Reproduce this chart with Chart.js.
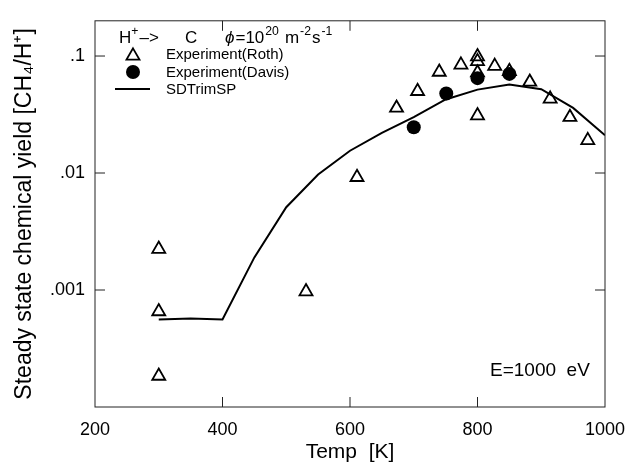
<!DOCTYPE html>
<html><head><meta charset="utf-8">
<script src="https://cdn.jsdelivr.net/npm/chart.js@4/dist/chart.umd.min.js"></script>
<style>html,body{margin:0;padding:0;background:#fff}#wrap{width:634px;height:466px}</style>
</head><body><div id="wrap"><canvas id="c" width="634" height="466"></canvas></div>
<script>
// ---- data ----
const rothTemp  = [300, 300, 300, 531, 611, 673, 706, 740, 774, 800, 800, 800, 800, 827, 850, 882, 914, 945, 973];
const rothYield = [0.00224, 0.000655, 0.000184, 0.00097, 0.0092, 0.036, 0.050, 0.073, 0.084, 0.099, 0.090, 0.072, 0.031, 0.082, 0.074, 0.060, 0.043, 0.030, 0.019];
const davisTemp  = [700, 751, 800, 850];
const davisYield = [0.0246, 0.0478, 0.0647, 0.0703];
const simTemp  = [300, 350, 400, 450, 500, 550, 600, 650, 700, 750, 800, 850, 900, 950, 1000];
const simYield = [0.00056, 0.00057, 0.00056, 0.0019, 0.0051, 0.0097, 0.0155, 0.022, 0.030, 0.0425, 0.0516, 0.057, 0.052, 0.036, 0.021];
const xTickValues = [200, 400, 600, 800, 1000];
const yTickValues = [0.001, 0.01, 0.1];
const yTickLabels = ['.001', '.01', '.1'];
const legendLabels = ['Experiment(Roth)', 'Experiment(Davis)', 'SDTrimSP'];

const FONT = '"Liberation Sans", Arial, sans-serif';

function pts(xs, ys){ return xs.map((x,i)=>({x:x, y:ys[i]})); }

function drawRuns(ctx, x, y, runs, size){
  let cx = x;
  runs.forEach(r=>{
    if (r.at !== undefined) cx = r.at;
    const s = r.sup ? size*0.72 : size;
    const dy = r.sup ? -size*0.45 : 0;
    ctx.font = (r.italic ? 'italic ' : '') + s + 'px ' + FONT;
    ctx.fillText(r.t, cx, y + dy);
    cx += ctx.measureText(r.t).width + (r.gap||0);
  });
}

const framePlugin = {
  id: 'frame',
  afterDatasetsDraw(chart){
    const ctx = chart.ctx, a = chart.chartArea;
    const xs = chart.scales.x, ys = chart.scales.y;
    ctx.save();
    ctx.strokeStyle = '#222';
    ctx.lineWidth = 1;
    ctx.strokeRect(a.left, a.top, a.right - a.left, a.bottom - a.top);
    const tl = 10;
    ctx.beginPath();
    xTickValues.forEach(v=>{
      const p = xs.getPixelForValue(v);
      if (p <= a.left + 1 || p >= a.right - 1) return;
      ctx.moveTo(p, a.bottom); ctx.lineTo(p, a.bottom - tl);
      ctx.moveTo(p, a.top); ctx.lineTo(p, a.top + tl);
    });
    yTickValues.forEach(v=>{
      const p = ys.getPixelForValue(v);
      ctx.moveTo(a.left, p); ctx.lineTo(a.left + tl, p);
      ctx.moveTo(a.right, p); ctx.lineTo(a.right - tl, p);
    });
    ctx.stroke();

    // annotation and legend
    ctx.fillStyle = '#000';
    ctx.textBaseline = 'alphabetic';
    ctx.textAlign = 'left';
    const fs = 17;
    drawRuns(ctx, 119, 43, [{t:'H'},{t:'+',sup:true,gap:1},{t:'\u2013>'},{t:'C',at:185}], fs);
    drawRuns(ctx, 225, 43, [{t:'\u03D5',italic:true,gap:1},{t:'=10',gap:1},{t:'20',sup:true,gap:6},{t:'m',gap:1},{t:'-2',sup:true,gap:1},{t:'s',gap:1},{t:'-1',sup:true}], fs);

    const sx = 133, tx = 166;
    const rows = [59, 77, 94];
    ctx.lineWidth = 1.8; ctx.strokeStyle = '#000';
    const r = 7.5, cy = rows[0] - 5;
    ctx.beginPath();
    ctx.moveTo(sx, cy - r*0.75);
    ctx.lineTo(sx + r*0.866, cy + r*0.75);
    ctx.lineTo(sx - r*0.866, cy + r*0.75);
    ctx.closePath(); ctx.stroke();
    ctx.beginPath(); ctx.arc(sx, rows[1] - 5, 7, 0, Math.PI*2); ctx.fill();
    ctx.lineWidth = 2;
    ctx.beginPath(); ctx.moveTo(115, rows[2] - 5); ctx.lineTo(150, rows[2] - 5); ctx.stroke();
    ctx.font = '15px ' + FONT;
    legendLabels.forEach((t,i)=> ctx.fillText(t, tx, rows[i]));

    ctx.font = '19px ' + FONT;
    ctx.fillText('E=1000  eV', 490, 376);
    ctx.restore();
  }
};

new Chart(document.getElementById('c'), {
  type: 'scatter',
  data: {
    datasets: [
      { label: legendLabels[0], data: pts(rothTemp, rothYield), pointStyle: 'triangle',
        pointRadius: 7.5, pointBorderWidth: 1.8, pointBorderColor: '#000', pointBackgroundColor: 'rgba(255,255,255,0)' },
      { label: legendLabels[1], data: pts(davisTemp, davisYield), pointStyle: 'circle',
        pointRadius: 7, pointBorderWidth: 0, pointBackgroundColor: '#000', pointBorderColor: '#000' },
      { label: legendLabels[2], data: pts(simTemp, simYield), showLine: true, pointRadius: 0,
        borderColor: '#000', borderWidth: 2, tension: 0 }
    ]
  },
  options: {
    responsive: false, animation: false, devicePixelRatio: 1,
    layout: { padding: { top: 12, right: 29, left: 0, bottom: 0 } },
    plugins: { legend: { display: false }, tooltip: { enabled: false } },
    scales: {
      x: {
        type: 'linear', min: 200, max: 1000,
        afterBuildTicks: s => { s.ticks = xTickValues.map(v=>({value:v})); },
        ticks: { color: '#000', font: { family: FONT, size: 18, lineHeight: 2.6 }, padding: 0, maxRotation: 0, autoSkip: false,
          callback: v => String(v) },
        grid: { display: false, drawTicks: false }, border: { display: false },
        title: { display: true, text: 'Temp  [K]', color: '#000', font: { family: FONT, size: 21 }, padding: { top: 0, bottom: 1 } },
        afterFit: s => { s.height = 59; }
      },
      y: {
        type: 'logarithmic', min: 0.0001, max: 0.2,
        afterBuildTicks: s => { s.ticks = yTickValues.map(v=>({value:v})); },
        ticks: { color: '#000', font: { family: FONT, size: 18 }, padding: 10, autoSkip: false,
          callback: v => { const i = yTickValues.indexOf(v); return i >= 0 ? yTickLabels[i] : ''; } },
        grid: { display: false, drawTicks: false }, border: { display: false },
        title: { display: true, text: 'Steady state chemical yield [CH\u2084/H\u207A]', color: '#000', font: { family: FONT, size: 23 }, padding: { top: 11, bottom: 0 } },
        afterFit: s => { s.width = 95; }
      }
    }
  },
  plugins: [framePlugin]
});
</script></body></html>
